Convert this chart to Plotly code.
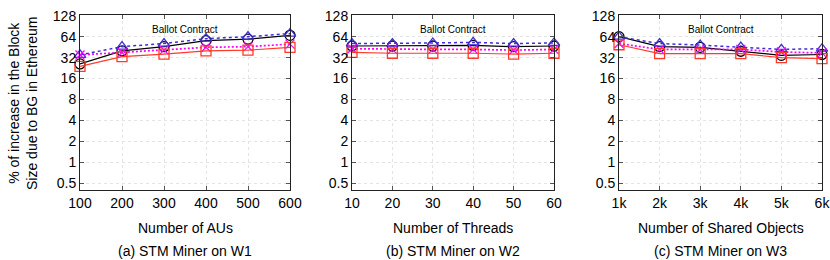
import plotly.graph_objects as go

# ---- data ----
x_aus = [100, 200, 300, 400, 500, 600]
x_threads = [10, 20, 30, 40, 50, 60]
x_objects = [1, 2, 3, 4, 5, 6]
x_objects_labels = ["1k", "2k", "3k", "4k", "5k", "6k"]

# panel (a)
a_black = [26, 40, 46, 56, 59, 67]
a_blue = [35, 46, 51, 60, 64, 71]
a_magenta = [35, 38, 41, 45, 46, 50]
a_red = [24, 33, 36, 40, 41, 45]

# panel (b)
b_black = [47, 47, 47, 48, 46, 47]
b_blue = [51, 51, 52, 53, 51, 52]
b_magenta = [43, 42, 42, 42, 41, 42]
b_red = [38, 37, 37, 37, 36, 37]

# panel (c)
c_black = [64, 46, 45, 39.5, 34.5, 35.5]
c_blue = [64, 51, 48.5, 45.5, 42, 43]
c_magenta = [51, 42, 42, 42, 38.5, 37.5]
c_red = [49, 36.5, 36.5, 36.5, 32, 31]

y_ticks = [0.5, 1, 2, 4, 8, 16, 32, 64, 128]
y_ticklabels = ["0.5", "1", "2", "4", "8", "16", "32", "64", "128"]

x_titles = ["Number of AUs", "Number of Threads", "Number of Shared Objects"]
captions = ["(a) STM Miner on W1", "(b) STM Miner on W2", "(c) STM Miner on W3"]
panel_title = "Ballot Contract"

# ---- styles ----
W, H = 830, 260
FONT = "Liberation Sans, Arial, sans-serif"
series_styles = [
    dict(color="#000000", dash="solid", width=1.2, symbol="circle-open", size=10),
    dict(color="#3f2ed6", dash="3px,3px", width=1.5, symbol="triangle-up-open", size=10),
    dict(color="#ff00ff", dash="2px,2px", width=1.7, symbol="x-thin-open", size=9),
    dict(color="#ff3a2a", dash="solid", width=1.2, symbol="square-open", size=10),
]

panels = [
    (x_aus, [a_black, a_blue, a_magenta, a_red], (80, 290), [100, 600], x_aus, [str(v) for v in x_aus]),
    (x_threads, [b_black, b_blue, b_magenta, b_red], (352, 554), [10, 60], x_threads, [str(v) for v in x_threads]),
    (x_objects, [c_black, c_blue, c_magenta, c_red], (619, 822), [1, 6], x_objects, x_objects_labels),
]

top_px, bot_px = 15, 190
ydom = [1 - bot_px / H, 1 - top_px / H]

fig = go.Figure()
layout = dict(
    width=W, height=H, margin=dict(l=0, r=0, t=0, b=0),
    paper_bgcolor="white", plot_bgcolor="white",
    showlegend=False, font=dict(family=FONT, size=14, color="#000"),
)
annotations = []

for i, (xs, series, (px0, px1), xr, tv, tt) in enumerate(panels):
    idx = "" if i == 0 else str(i + 1)
    for ys, st in zip(series, series_styles):
        fig.add_trace(go.Scatter(
            x=xs, y=ys, mode="lines+markers",
            xaxis="x" + idx, yaxis="y" + idx,
            line=dict(color=st["color"], dash=st["dash"], width=st["width"]),
            marker=dict(symbol=st["symbol"], size=st["size"],
                        color=st["color"], line=dict(color=st["color"], width=1.3)),
            cliponaxis=False,
        ))
    layout["xaxis" + idx] = dict(
        domain=[px0 / W, px1 / W], anchor="y" + idx, range=xr,
        tickvals=tv, ticktext=tt, ticks="inside", ticklen=4, tickcolor="#555",
        showline=True, linecolor="#222", linewidth=1, mirror="ticks",
        showgrid=True, gridcolor="#e4e4e4", griddash="dot", gridwidth=1,
        zeroline=False, tickfont=dict(size=14, family=FONT), automargin=False,
        ticklabeloverflow="allow",
    )
    layout["yaxis" + idx] = dict(
        domain=ydom, anchor="x" + idx, type="log",
        range=[-0.398, 2.118],
        tickvals=y_ticks, ticktext=y_ticklabels, ticks="inside", ticklen=4, tickcolor="#555",
        showline=True, linecolor="#222", linewidth=1, mirror="ticks",
        showgrid=True, gridcolor="#e4e4e4", griddash="dot", gridwidth=1,
        zeroline=False, tickfont=dict(size=14, family=FONT), automargin=False,
        ticklabeloverflow="allow",
    )
    cx = (px0 + px1) / 2 / W
    annotations.append(dict(text=panel_title, x=cx, y=1 - 29 / H, xref="paper", yref="paper",
                            showarrow=False, font=dict(size=10, family=FONT), xanchor="center", yanchor="middle"))
    annotations.append(dict(text=x_titles[i], x=cx, y=1 - 228 / H, xref="paper", yref="paper",
                            showarrow=False, font=dict(size=14, family=FONT), xanchor="center", yanchor="middle"))
    annotations.append(dict(text=captions[i], x=cx, y=1 - 251 / H, xref="paper", yref="paper",
                            showarrow=False, font=dict(size=14, family=FONT), xanchor="center", yanchor="middle"))

annotations.append(dict(text="% of increase in the Block<br>Size due to BG in Ethereum",
                        x=23 / W, y=1 - 103 / H, xref="paper", yref="paper", textangle=-90,
                        showarrow=False, font=dict(size=14, family=FONT),
                        xanchor="center", yanchor="middle"))
layout["annotations"] = annotations
fig.update_layout(**layout)
fig.write_html("out.html", config={"displayModeBar": False, "staticPlot": True},
               post_script="document.body.style.margin='0';document.body.style.overflow='hidden';")
